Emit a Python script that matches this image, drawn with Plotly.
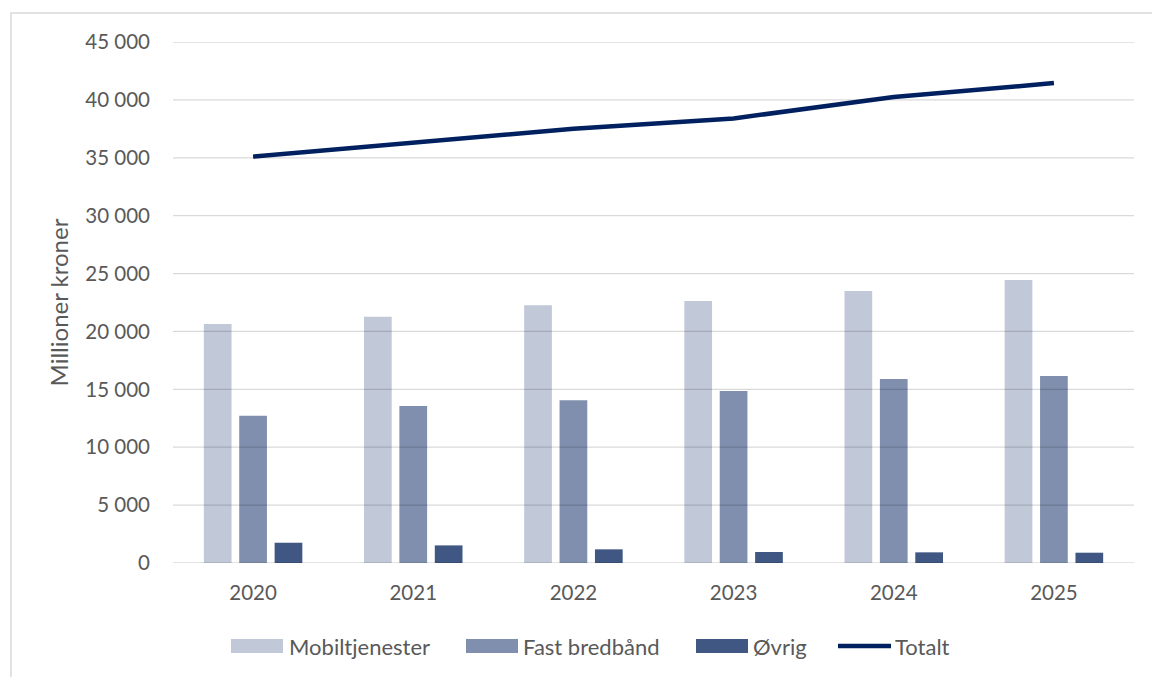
import plotly.graph_objects as go

years = ["2020", "2021", "2022", "2023", "2024", "2025"]
mobil = [20640, 21270, 22260, 22630, 23490, 24440]
fast = [12720, 13560, 14050, 14860, 15890, 16150]
ovrig = [1750, 1520, 1180, 950, 920, 890]
totalt = [35100, 36300, 37500, 38400, 40250, 41450]

series_names = ["Mobiltjenester", "Fast bredbånd", "Øvrig", "Totalt"]
y_ticks = [0, 5000, 10000, 15000, 20000, 25000, 30000, 35000, 40000, 45000]

c_mobil = "#c1c8d8"
c_fast = "#808fae"
c_ovrig = "#3f5782"
c_tot = "#002060"
txt = "#595959"
FONT = "Lato, Liberation Sans, sans-serif"

fig = go.Figure()
for name, vals, col in [(series_names[0], mobil, c_mobil), (series_names[1], fast, c_fast), (series_names[2], ovrig, c_ovrig)]:
    fig.add_trace(go.Bar(x=years, y=vals, name=name, marker=dict(color=col, line=dict(width=0)), showlegend=False))
fig.add_trace(go.Scatter(x=years, y=totalt, name=series_names[3], mode="lines",
                         line=dict(color=c_tot, width=4.5), showlegend=False))

L, R, T, B = 173, 18, 42, 114
W, H = 1152, 677
pw = W - L - R
ph = H - T - B

def px2x(px):
    return (px - L) / pw

def px2y(py):
    return (H - B - py) / ph

shapes = []
# gridlines over bars (Excel look)
for v in y_ticks:
    shapes.append(dict(type="line", xref="paper", yref="y", x0=0, x1=1, y0=v, y1=v,
                       line=dict(color="rgba(0,0,0,0.15)", width=1.3), layer="above"))
# outer chart frame
shapes.append(dict(type="rect", xref="paper", yref="paper", x0=px2x(11), x1=px2x(1160),
                   y0=px2y(690), y1=px2y(13), line=dict(color="#d9d9d9", width=1.5), layer="below"))

# custom legend
annotations = []
ly = 646
legend_items = [
    ("bar", c_mobil, 231, 283, series_names[0], 287),
    ("bar", c_fast, 466, 518, series_names[1], 521),
    ("bar", c_ovrig, 696, 748, series_names[2], 751),
    ("line", c_tot, 838, 891, series_names[3], 893),
]
for kind, col, x0, x1, label, tx in legend_items:
    if kind == "bar":
        shapes.append(dict(type="rect", xref="paper", yref="paper", x0=px2x(x0), x1=px2x(x1),
                           y0=px2y(ly + 7), y1=px2y(ly - 7), fillcolor=col, line=dict(width=0)))
    else:
        shapes.append(dict(type="line", xref="paper", yref="paper", x0=px2x(x0), x1=px2x(x1),
                           y0=px2y(ly), y1=px2y(ly), line=dict(color=col, width=4.5)))
    annotations.append(dict(xref="paper", yref="paper", x=px2x(tx), y=px2y(ly), text=label,
                            showarrow=False, xanchor="left", yanchor="middle",
                            font=dict(size=22, color=txt, family=FONT)))

fig.update_layout(
    width=W, height=H,
    margin=dict(l=L, r=R, t=T, b=B),
    paper_bgcolor="white", plot_bgcolor="white",
    barmode="group", bargap=0.337, bargroupgap=0.217,
    separators=", ",
    font=dict(family=FONT, size=20, color=txt),
    shapes=shapes, annotations=annotations,
    showlegend=False,
    xaxis=dict(showgrid=False, showline=False, ticks="", tickfont=dict(size=20.5, color=txt),
               ticklabelstandoff=15),
    yaxis=dict(range=[0, 45000], tickvals=y_ticks, tickformat=",d", showgrid=False,
               zeroline=False, showline=False, ticks="", tickfont=dict(size=20.5, color=txt),
               ticklabelstandoff=22,
               title=dict(text="Millioner kroner", font=dict(size=24, color=txt), standoff=9)),
)

fig.write_html("out.html", config={"displayModeBar": False},
               post_script="document.body.style.margin='0';document.body.style.padding='0';")
